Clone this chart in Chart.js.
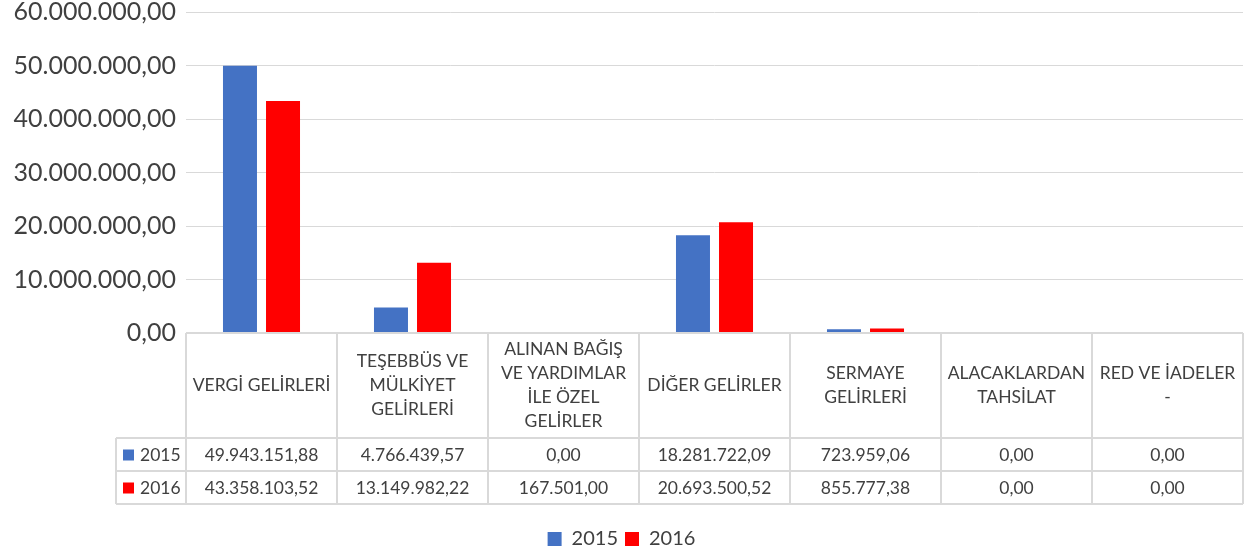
<!DOCTYPE html>
<html>
<head>
<meta charset="utf-8">
<script src="https://cdn.jsdelivr.net/npm/chart.js@4"></script>
<style>
  html, body { margin: 0; background: #fff; }
  #wrap { width: 1250px; height: 559px; }
</style>
</head>
<body>
<div id="wrap"><canvas id="gelirChart"></canvas></div>
<script>
// gelir kalemleri (tablo başlıkları satır satır)
const categories = [
    ['VERGİ GELİRLERİ'],
    ['TEŞEBBÜS VE', 'MÜLKİYET', 'GELİRLERİ'],
    ['ALINAN BAĞIŞ', 'VE YARDIMLAR', 'İLE ÖZEL', 'GELİRLER'],
    ['DİĞER GELİRLER'],
    ['SERMAYE', 'GELİRLERİ'],
    ['ALACAKLARDAN', 'TAHSİLAT'],
    ['RED VE İADELER', '-']
];
const years = ['2015', '2016'];
const values2015 = [49943151.88, 4766439.57, 0, 18281722.09, 723959.06, 0, 0];
const values2016 = [43358103.52, 13149982.22, 167501.00, 20693500.52, 855777.38, 0, 0];
const yTickValues = [0, 10000000, 20000000, 30000000, 40000000, 50000000, 60000000];

const colors = ['#4472C4', '#FF0000'];
const textColor = '#404040';
const lineColor = '#d9d9d9';
const fontName = 'Lato, sans-serif';

function trFormat(n) {
    const parts = n.toFixed(2).split('.');
    return parts[0].replace(/\B(?=(\d{3})+(?!\d))/g, '.') + ',' + parts[1];
}

// grafiğin altındaki veri tablosu
const dataTable = {
    id: 'dataTable',
    afterDraw(chart) {
        const ctx = chart.ctx;
        const a = chart.chartArea;
        const n = categories.length;
        const colW = (a.right - a.left) / n;
        const headerBottom = a.bottom + 105;
        const rowH = 33;
        const keyLeft = 116;
        const series = chart.data.datasets;

        ctx.save();
        ctx.strokeStyle = lineColor;
        ctx.lineWidth = 2;
        ctx.beginPath();
        ctx.moveTo(a.left, a.bottom);
        ctx.lineTo(a.right, a.bottom);
        for (let r = 0; r <= series.length; r++) {
            const y = headerBottom + r * rowH;
            ctx.moveTo(keyLeft, y);
            ctx.lineTo(a.right, y);
        }
        for (let c = 0; c <= n; c++) {
            const x = a.left + c * colW;
            ctx.moveTo(x, a.bottom);
            ctx.lineTo(x, headerBottom + series.length * rowH);
        }
        ctx.moveTo(keyLeft, headerBottom);
        ctx.lineTo(keyLeft, headerBottom + series.length * rowH);
        ctx.stroke();

        ctx.fillStyle = textColor;
        ctx.textAlign = 'center';
        ctx.textBaseline = 'middle';
        ctx.font = '17.5px ' + fontName;
        const midHeader = (a.bottom + headerBottom) / 2;
        const lh = 24;
        categories.forEach((lines, c) => {
            const cx = a.left + (c + 0.5) * colW;
            const y0 = midHeader - (lines.length - 1) * lh / 2;
            lines.forEach((t, i) => ctx.fillText(t, cx, y0 + i * lh));
        });

        series.forEach((ds, r) => {
            const cy = headerBottom + (r + 0.5) * rowH;
            ctx.fillStyle = ds.backgroundColor;
            ctx.fillRect(keyLeft + 7, cy - 5, 11, 11);
            ctx.fillStyle = textColor;
            ctx.textAlign = 'left';
            ctx.fillText(ds.label, keyLeft + 24, cy + 1);
            ctx.textAlign = 'center';
            ds.data.forEach((v, c) => {
                ctx.fillText(trFormat(v), a.left + (c + 0.5) * colW, cy + 1);
            });
        });
        ctx.restore();
    }
};

new Chart(document.getElementById('gelirChart'), {
    type: 'bar',
    data: {
        labels: categories,
        datasets: [
            { label: years[0], data: values2015, backgroundColor: colors[0] },
            { label: years[1], data: values2016, backgroundColor: colors[1] }
        ]
    },
    options: {
        responsive: true,
        maintainAspectRatio: false,
        animation: false,
        datasets: { bar: { categoryPercentage: 0.57, barPercentage: 0.79 } },
        layout: { padding: { top: 12, right: 7, left: 0, bottom: 0 } },
        plugins: {
            legend: {
                position: 'bottom',
                labels: {
                    color: textColor,
                    font: { family: fontName, size: 20 },
                    boxWidth: 14,
                    boxHeight: 14,
                    padding: 7
                }
            },
            tooltip: { enabled: false }
        },
        scales: {
            x: {
                ticks: { display: false },
                grid: { display: false },
                border: { display: false },
                afterFit(s) { s.height = 189; }
            },
            y: {
                min: 0,
                max: 60000000,
                afterBuildTicks(s) { s.ticks = yTickValues.map(v => ({ value: v })); },
                afterFit(s) { s.width = 186; s.paddingTop = 0; s.paddingBottom = 0; },
                ticks: {
                    color: textColor,
                    font: { family: fontName, size: 25 },
                    padding: 10,
                    callback: v => trFormat(v)
                },
                grid: { color: lineColor, lineWidth: 1, drawTicks: false },
                border: { display: false }
            }
        }
    },
    plugins: [dataTable]
});
</script>
</body>
</html>
